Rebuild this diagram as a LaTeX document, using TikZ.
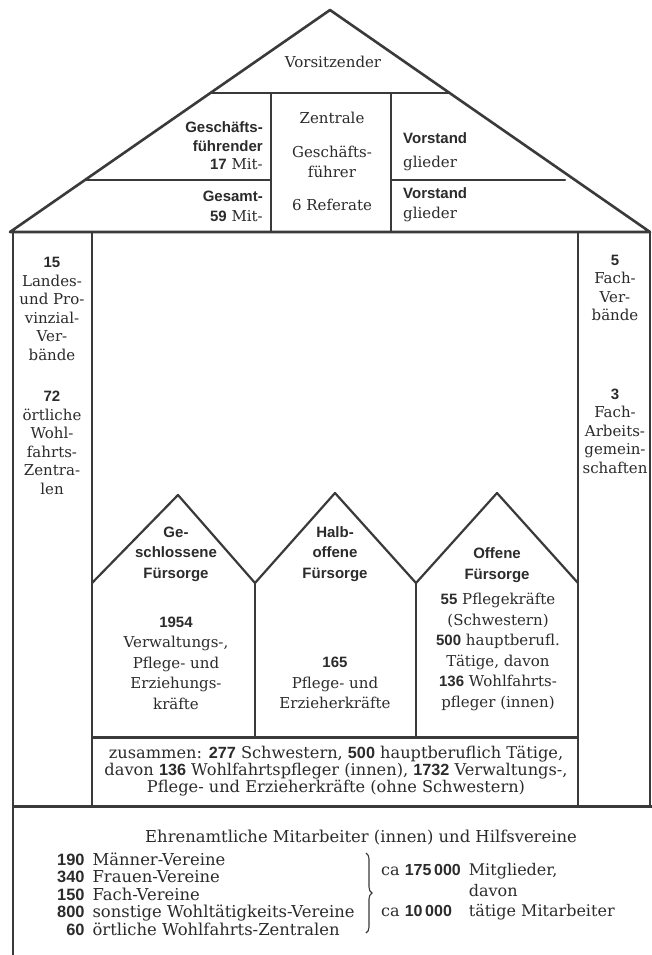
\documentclass[tikz,border=0pt]{standalone}
\usepackage{fontspec}
\setmainfont{DejaVu Serif}
\newfontfamily\grot{Liberation Sans}
\usetikzlibrary{decorations.pathreplacing}
\newcommand{\B}[1]{{\grot\bfseries #1}}
\definecolor{ink}{HTML}{2B2B2B}
\definecolor{rule}{HTML}{3A3A3A}
\begin{document}
\begin{tikzpicture}[x=1pt,y=-1pt,
  wall/.style={draw=rule,line width=2.2pt,line cap=round,line join=round},
  heavy/.style={draw=rule,line width=3pt},
  txt/.style={text=ink,inner sep=0pt,align=center,font=\fontsize{15}{18.5}\selectfont},
  house/.style={txt,font=\fontsize{15}{20.5}\selectfont},
  ]
\useasboundingbox[fill=white] (0,0) rectangle (652,955);
% ---------- roof ----------
\coordinate (rl) at (10,232); \coordinate (ra) at (330,10); \coordinate (rr) at (650,232);
\draw[wall,line width=2.6pt] (rl) -- (ra) -- (rr) -- cycle;
\coordinate (h1l) at (210.4,93); \coordinate (h1r) at (449.6,93);
\draw[wall] (h1l) -- (h1r);
\coordinate (v1t) at (271,93); \coordinate (v1b) at (271,232);
\coordinate (v2t) at (391,93); \coordinate (v2b) at (391,232);
\draw[wall] (v1t) -- (v1b); \draw[wall] (v2t) -- (v2b);
\coordinate (m1l) at (85,180); \coordinate (m1r) at (271,180);
\coordinate (m2l) at (391,180); \coordinate (m2r) at (565,180);
\draw[wall] (m1l) -- (m1r); \draw[wall] (m2l) -- (m2r);
\node[txt] (vors) at (333,62) {Vorsitzender};
\node[txt,align=right,anchor=east] (gf) at (263,146) {\B{Geschäfts-}\\\B{führender}\\\B{17} Mit-};
\node[txt,align=right,anchor=east,font=\fontsize{15}{20}\selectfont] (gs) at (263,206) {\B{Gesamt-}\\\B{59} Mit-};
\node[txt] (zen) at (332,118) {Zentrale};
\node[txt,font=\fontsize{15}{20}\selectfont] (gfr) at (332,162) {Geschäfts-\\führer};
\node[txt] (ref) at (332,205) {6 Referate};
\node[txt,align=left,anchor=west,font=\fontsize{15}{24}\selectfont] (vs1) at (403,152) {\B{Vorstand}\\glieder};
\node[txt,align=left,anchor=west,font=\fontsize{15}{20}\selectfont] (vs2) at (403,205) {\B{Vorstand}\\glieder};
% ---------- body ----------
\coordinate (ol1) at (13,232); \coordinate (ol2) at (13,955);
\coordinate (il1) at (92,232); \coordinate (il2) at (92,806);
\coordinate (ir1) at (578,232); \coordinate (ir2) at (578,806);
\coordinate (or1) at (650,232); \coordinate (or2) at (650,806);
\draw[wall] (ol1) -- (ol2); \draw[wall] (il1) -- (il2); \draw[wall] (ir1) -- (ir2);
\draw[wall,line width=1.4pt] (or1) -- (or2);
% houses
\coordinate (a0) at (92,583); \coordinate (p1) at (178,495); \coordinate (a1) at (255,583);
\coordinate (p2) at (335,493); \coordinate (a2) at (416,583); \coordinate (p3) at (497,493);
\coordinate (a3) at (578,583);
\draw[wall] (a0) -- (p1) -- (a1) -- (p2) -- (a2) -- (p3) -- (a3);
\coordinate (w1) at (255,736); \coordinate (w2) at (416,736);
\draw[wall] (a1) -- (w1); \draw[wall] (a2) -- (w2);
\coordinate (z1) at (92,737); \coordinate (z2) at (578,737);
\draw[heavy] (z1) -- (z2);
\coordinate (b1) at (13,806); \coordinate (b2) at (652,806);
\draw[heavy] (b1) -- (b2);
% pillars
\node[txt] (lp1) at (52,309) {\B{15}\\Landes-\\und Pro-\\vinzial-\\Ver-\\bände};
\node[txt] (lp2) at (52,443) {\B{72}\\örtliche\\Wohl-\\fahrts-\\Zentra-\\len};
\node[txt] (rp1) at (615,288) {\B{5}\\Fach-\\Ver-\\bände};
\node[txt] (rp2) at (615,431) {\B{3}\\Fach-\\Arbeits-\\gemein-\\schaften};
% house texts
\node[house] (t1) at (176,554) {\B{Ge-}\\\B{schlossene}\\\B{Fürsorge}};
\node[house] (d1) at (176,663) {\B{1954}\\Verwaltungs-,\\Pflege- und\\Erziehungs-\\kräfte};
\node[house] (t2) at (335,554) {\B{Halb-}\\\B{offene}\\\B{Fürsorge}};
\node[house] (d2) at (335,683) {\B{165}\\Pflege- und\\Erzieherkräfte};
\node[house] (t3) at (497,565) {\B{Offene}\\\B{Fürsorge}};
\node[house] (d3) at (498,652) {\B{55} Pflegekräfte\\(Schwestern)\\\B{500} hauptberufl.\\Tätige, davon\\\B{136} Wohlfahrts-\\pfleger (innen)};
% zusammen
\node[txt,font=\fontsize{16.2}{16.6}\selectfont] (zus) at (336,771) {zusammen: \B{277} Schwestern, \B{500} hauptberuflich Tätige,\\davon \B{136} Wohlfahrtspfleger (innen), \B{1732} Verwaltungs-,\\Pflege- und Erzieherkräfte (ohne Schwestern)};
% bottom
\node[txt,font=\fontsize{16.4}{18}\selectfont] (ehr) at (361,838) {Ehrenamtliche Mitarbeiter (innen) und Hilfsvereine};
\node[txt,anchor=north west,font=\fontsize{16.4}{16.6}\selectfont] (lst) at (57,853) {%
\begin{tabular}{@{}r@{\hspace{8pt}}l@{}}
\B{190} & Männer-Vereine\\
\B{340} & Frauen-Vereine\\
\B{150} & Fach-Vereine\\
\B{800} & sonstige Wohltätigkeits-Vereine\\
\B{60} & örtliche Wohlfahrts-Zentralen
\end{tabular}};
\coordinate (brt) at (366,853); \coordinate (brb) at (366,933);
\draw[rule,line width=1.1pt,decorate,decoration={brace,amplitude=6pt}] (brt) -- (brb);
\node[txt,anchor=north west,font=\fontsize{16}{20.5}\selectfont] (tot) at (381,861) {%
\begin{tabular}{@{}l@{\hspace{8pt}}l@{}}
ca \B{175\,000} & Mitglieder,\\
 & davon\\
ca \B{10\,000} & tätige Mitarbeiter
\end{tabular}};
\end{tikzpicture}
\end{document}
